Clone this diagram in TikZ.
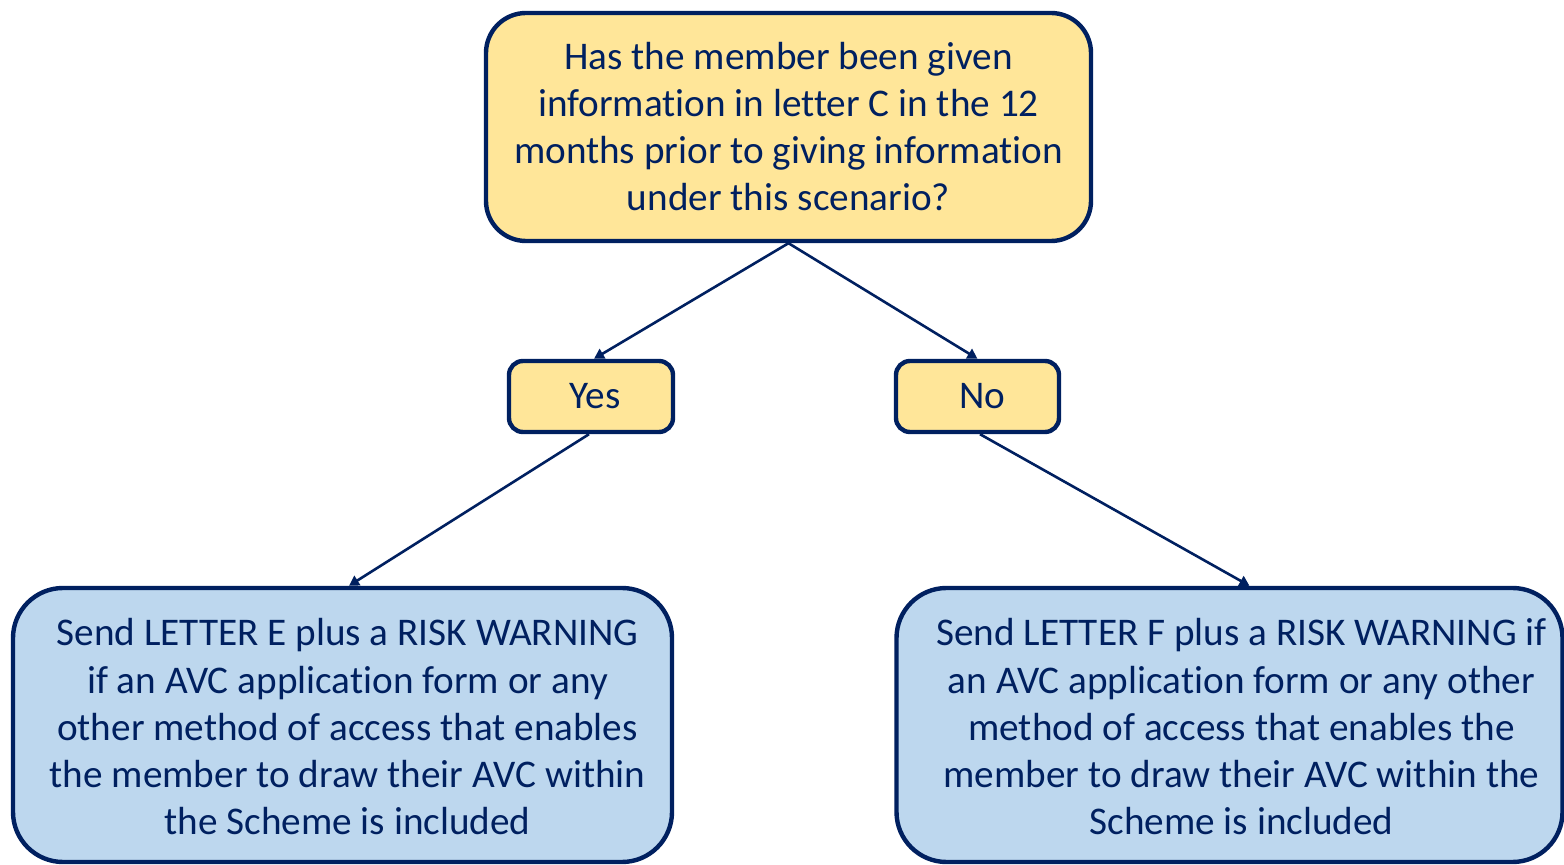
\documentclass[tikz,border=0pt]{standalone}
\usepackage{fontspec}
\setmainfont{Carlito}[Ligatures={NoCommon,NoRare,NoContextual}]
\usetikzlibrary{arrows.meta,calc}
\definecolor{navy}{HTML}{002060}
\definecolor{boxyellow}{HTML}{FFE699}
\definecolor{boxblue}{HTML}{BDD7EE}
\newcommand{\padlines}[2]{\raisebox{-3pt}[\height][\depth]{\begin{tabular}{@{\hspace{#1}}c@{}}#2\end{tabular}}}
\tikzset{
  basebox/.style={draw=navy, line width=2.2pt, text=navy, align=center,
    font=\fontsize{19.6}{23.5}\selectfont, inner sep=0pt},
  qbox/.style={basebox, fill=boxyellow, rounded corners=20pt},
  ansbox/.style={basebox, fill=boxyellow, rounded corners=7pt},
  actbox/.style={basebox, fill=boxblue, rounded corners=25pt},
  conn/.style={draw=navy, line width=1.3pt, -{Triangle[length=5pt,width=5.5pt]}}
}
\renewcommand{\arraystretch}{1.005}
\setlength{\tabcolsep}{0pt}
\begin{document}
\begin{tikzpicture}[x=0.5pt,y=-0.5pt]
\useasboundingbox (0,0) rectangle (1564,865);
\fill[white] (0,0) rectangle (1564,865);
\node[qbox, minimum width=302.5pt, minimum height=114pt] (q) at (788.5,127)
  {Has the member been given\\information in letter C in the 12\\months prior to giving information\\under this scenario?};
\node[ansbox, minimum width=82pt, minimum height=35.5pt] (yes) at (591,396.5) {\hspace*{4pt}Yes};
\node[ansbox, minimum width=81.5pt, minimum height=35.5pt] (no) at (977.5,396.5) {\hspace*{5pt}No};
\node[actbox, minimum width=329.5pt, minimum height=137pt] (e) at (342.5,725)
  {\padlines{5pt}{Send LETTER E plus a RISK WARNING\\if an AVC application form or any\\other method of access that enables\\the member to draw their AVC within\\the Scheme is included}};
\node[actbox, minimum width=333pt, minimum height=137pt] (f) at (1229.5,725)
  {\padlines{12pt}{Send LETTER F plus a RISK WARNING if\\an AVC application form or any other\\method of access that enables the\\member to draw their AVC within the\\Scheme is included}};
\draw[conn] (q.south) -- ([xshift=1.5pt]yes.north);
\draw[conn] (q.south) -- (no.north);
\draw[conn] ([xshift=-1pt]yes.south) -- ([xshift=3.25pt]e.north);
\draw[conn] ([xshift=1.25pt]no.south) -- ([xshift=10pt]f.north);
\end{tikzpicture}
\end{document}
